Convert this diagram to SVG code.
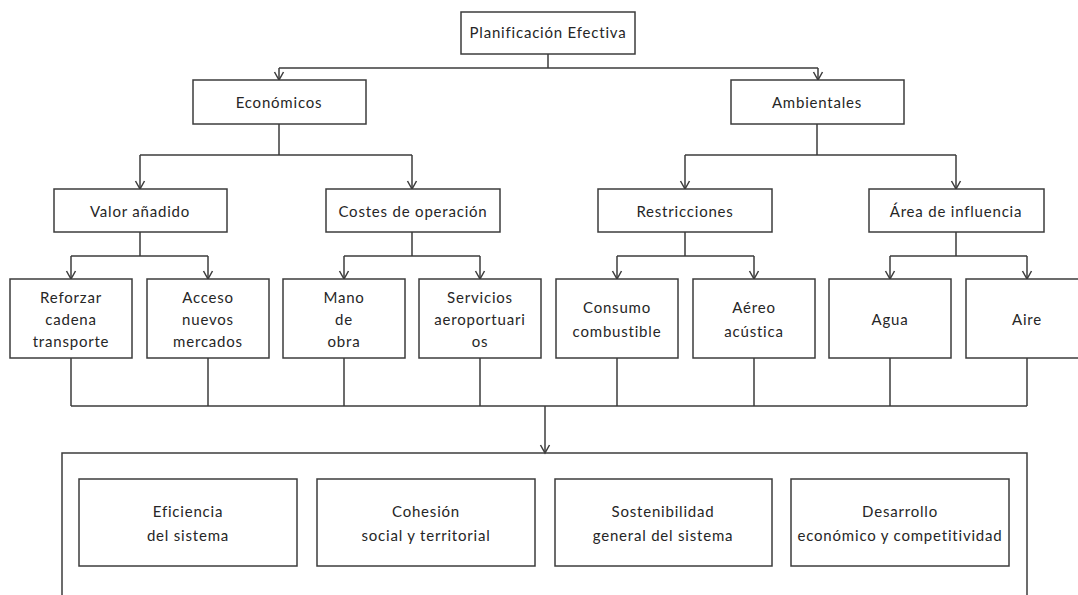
<svg xmlns="http://www.w3.org/2000/svg" width="1078" height="595" viewBox="0 0 1078 595">
  <defs>
    <style>
      .box { fill: #ffffff; stroke: #3c3c3c; stroke-width: 1.5; }
      .frame { fill: none; stroke: #3c3c3c; stroke-width: 1.5; }
      .wire { fill: none; stroke: #3c3c3c; stroke-width: 1.5; }
      .arrow { fill: none; stroke: #3c3c3c; stroke-width: 1.5; marker-end: url(#vhead); }
      text { font-family: Lato, "Open Sans", "Liberation Sans", sans-serif; font-size: 15px; letter-spacing: 0.8px; fill: #262626; text-anchor: middle; }
    </style>
    <marker id="vhead" markerUnits="userSpaceOnUse" markerWidth="12" markerHeight="12" viewBox="0 0 12 12" refX="10" refY="6" orient="auto">
      <path d="M2,1.5 L10,6 L2,10.5" fill="none" stroke="#3c3c3c" stroke-width="1.5"/>
    </marker>
  </defs>
  <rect width="1078" height="595" fill="#ffffff"/>

  <!-- connectors -->
  <g id="connectors">
    <!-- root to first level -->
    <path class="wire" d="M548,54 V68 M279,68 H818"/>
    <path class="arrow" d="M279,68 V80"/>
    <path class="arrow" d="M818,68 V80"/>
    <!-- Económicos branch -->
    <path class="wire" d="M279,124 V155 M140,155 H412"/>
    <path class="arrow" d="M140,155 V189"/>
    <path class="arrow" d="M412,155 V189"/>
    <!-- Ambientales branch -->
    <path class="wire" d="M817,124 V155 M685,155 H956"/>
    <path class="arrow" d="M685,155 V189"/>
    <path class="arrow" d="M956,155 V189"/>
    <!-- Valor añadido branch -->
    <path class="wire" d="M140,232 V256 M71,256 H208"/>
    <path class="arrow" d="M71,256 V279"/>
    <path class="arrow" d="M208,256 V279"/>
    <!-- Costes de operación branch -->
    <path class="wire" d="M412,232 V256 M344,256 H480"/>
    <path class="arrow" d="M344,256 V279"/>
    <path class="arrow" d="M480,256 V279"/>
    <!-- Restricciones branch -->
    <path class="wire" d="M685,232 V256 M617,256 H754"/>
    <path class="arrow" d="M617,256 V279"/>
    <path class="arrow" d="M754,256 V279"/>
    <!-- Área de influencia branch -->
    <path class="wire" d="M956,232 V256 M890,256 H1027"/>
    <path class="arrow" d="M890,256 V279"/>
    <path class="arrow" d="M1027,256 V279"/>
    <!-- collector bus into the outcomes frame -->
    <path class="wire" d="M71,358 V406 M208,358 V406 M344,358 V406 M480,358 V406 M617,358 V406 M754,358 V406 M890,358 V406 M1027,358 V406 M71,406 H1027"/>
    <path class="arrow" d="M545,406 V453"/>
  </g>

  <g id="n-planificacion">
    <rect class="box" x="461" y="12" width="174" height="42"/>
    <text x="548" y="38">Planificación Efectiva</text>
  </g>

  <g id="n-economicos">
    <rect class="box" x="193" y="80" width="173" height="44"/>
    <text x="279" y="108">Económicos</text>
  </g>
  <g id="n-ambientales">
    <rect class="box" x="731" y="80" width="173" height="44"/>
    <text x="817" y="108">Ambientales</text>
  </g>

  <g id="n-valor">
    <rect class="box" x="54" y="189" width="173" height="43"/>
    <text x="140" y="217">Valor añadido</text>
  </g>
  <g id="n-costes">
    <rect class="box" x="326" y="189" width="174" height="43"/>
    <text x="413" y="217">Costes de operación</text>
  </g>
  <g id="n-restricciones">
    <rect class="box" x="598" y="189" width="174" height="43"/>
    <text x="685" y="217">Restricciones</text>
  </g>
  <g id="n-area">
    <rect class="box" x="869" y="189" width="175" height="43"/>
    <text x="956" y="217">Área de influencia</text>
  </g>

  <g id="n-reforzar">
    <rect class="box" x="10" y="279" width="122" height="79"/>
    <text x="71" y="303">Reforzar</text>
    <text x="71" y="325">cadena</text>
    <text x="71" y="347">transporte</text>
  </g>
  <g id="n-acceso">
    <rect class="box" x="147" y="279" width="122" height="79"/>
    <text x="208" y="303">Acceso</text>
    <text x="208" y="325">nuevos</text>
    <text x="208" y="347">mercados</text>
  </g>
  <g id="n-mano">
    <rect class="box" x="283" y="279" width="122" height="79"/>
    <text x="344" y="303">Mano</text>
    <text x="344" y="325">de</text>
    <text x="344" y="347">obra</text>
  </g>
  <g id="n-servicios">
    <rect class="box" x="419" y="279" width="122" height="79"/>
    <text x="480" y="303">Servicios</text>
    <text x="480" y="325">aeroportuari</text>
    <text x="480" y="347">os</text>
  </g>
  <g id="n-consumo">
    <rect class="box" x="556" y="279" width="122" height="79"/>
    <text x="617" y="313">Consumo</text>
    <text x="617" y="337">combustible</text>
  </g>
  <g id="n-aereo">
    <rect class="box" x="693" y="279" width="122" height="79"/>
    <text x="754" y="313">Aéreo</text>
    <text x="754" y="337">acústica</text>
  </g>
  <g id="n-agua">
    <rect class="box" x="829" y="279" width="122" height="79"/>
    <text x="890" y="325">Agua</text>
  </g>
  <g id="n-aire">
    <rect class="box" x="966" y="279" width="122" height="79"/>
    <text x="1027" y="325">Aire</text>
  </g>

  <!-- outcomes frame, open at the page bottom -->
  <g id="n-resultados">
    <path class="frame" d="M62,600 V453 H1027 V600"/>
    <g id="n-eficiencia">
      <rect class="box" x="79" y="479" width="218" height="87"/>
      <text x="188" y="517">Eficiencia</text>
      <text x="188" y="541">del sistema</text>
    </g>
    <g id="n-cohesion">
      <rect class="box" x="317" y="479" width="218" height="87"/>
      <text x="426" y="517">Cohesión</text>
      <text x="426" y="541">social y territorial</text>
    </g>
    <g id="n-sostenibilidad">
      <rect class="box" x="555" y="479" width="217" height="87"/>
      <text x="663" y="517">Sostenibilidad</text>
      <text x="663" y="541">general del sistema</text>
    </g>
    <g id="n-desarrollo">
      <rect class="box" x="791" y="479" width="218" height="87"/>
      <text x="900" y="517">Desarrollo</text>
      <text x="900" y="541">económico y competitividad</text>
    </g>
  </g>
</svg>
